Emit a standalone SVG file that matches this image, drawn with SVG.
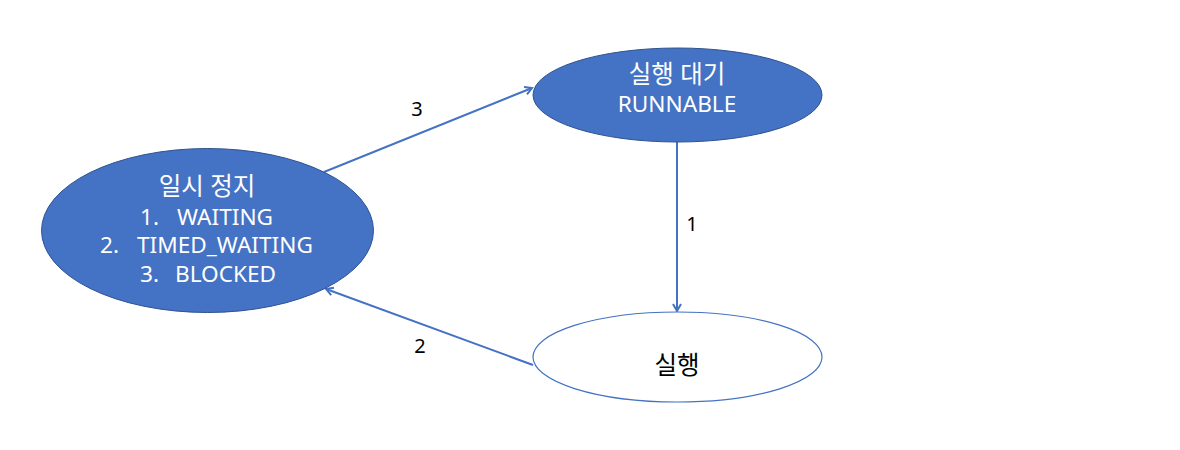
<svg xmlns="http://www.w3.org/2000/svg" width="1180" height="450" viewBox="0 0 1180 450">
<style>
.fill{fill:#4472C4;stroke:#2F528F;stroke-width:1}
.hollow{fill:#FFFFFF;stroke:#4472C4;stroke-width:1.2}
text{font-family:"Noto Sans","Noto Sans CJK KR",sans-serif;font-size:22.6px}
.ko{font-size:24.5px}
.lbl{font-size:20px}
.w{fill:#FFFFFF}
.k{fill:#000000}
.c{text-anchor:middle}
.edge{stroke:#4472C4;stroke-width:2;fill:none;marker-end:url(#ah)}
</style>
<defs>
<marker id="ah" markerWidth="10" markerHeight="10" refX="8" refY="5" orient="auto" markerUnits="userSpaceOnUse">
<path d="M1,1 L8,5 L1,9" fill="none" stroke="#4472C4" stroke-width="2"/>
</marker>
</defs>
<rect width="1180" height="450" fill="#FFFFFF"/>
<g id="connectors">
<line class="edge" x1="677" y1="142" x2="677" y2="311"/>
<line class="edge" x1="324" y1="172" x2="532" y2="88"/>
<line class="edge" x1="533" y1="365" x2="326" y2="289"/>
<text class="k lbl c" x="417" y="116">3</text>
<text class="k lbl c" x="692" y="231">1</text>
<text class="k lbl c" x="420" y="353">2</text>
</g>
<g id="node-paused">
<ellipse class="fill" cx="207.5" cy="230.5" rx="166" ry="82"/>
<text class="w c ko" x="207" y="195">일시 정지</text>
<text class="w" x="140" y="225">1.</text>
<text class="w" x="177" y="225">WAITING</text>
<text class="w" x="100" y="253">2.</text>
<text class="w" x="137" y="253">TIMED_WAITING</text>
<text class="w" x="140" y="282">3.</text>
<text class="w" x="175" y="282">BLOCKED</text>
</g>
<g id="node-runnable">
<ellipse class="fill" cx="677.5" cy="95" rx="144.5" ry="47"/>
<text class="w c ko" x="677" y="83">실행 대기</text>
<text class="w c" x="677" y="112">RUNNABLE</text>
</g>
<g id="node-running">
<ellipse class="hollow" cx="677.5" cy="357" rx="144.5" ry="45"/>
<text class="k c ko" x="677" y="374">실행</text>
</g>
</svg>
